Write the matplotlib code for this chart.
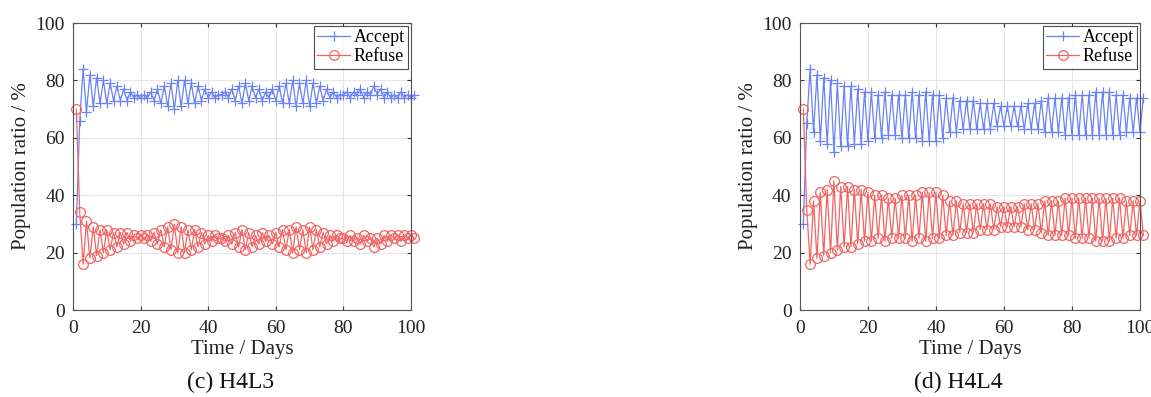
import matplotlib.pyplot as plt

plt.rcParams['font.family'] = ['Liberation Serif', 'DejaVu Serif']

days = list(range(1, 102))

# (c) H4L3
refuse_c = [70, 34, 16, 31, 18, 29, 19, 28, 20, 28,
            21, 27, 22, 27, 23, 27, 24, 26, 25, 26,
            25, 26, 24, 27, 23, 28, 22, 29, 21, 30,
            20, 29, 20, 28, 21, 28, 22, 27, 23, 26,
            24, 26, 25, 25, 24, 26, 23, 27, 22, 28,
            21, 27, 22, 26, 23, 27, 24, 26, 23, 27,
            22, 28, 21, 28, 20, 29, 21, 28, 20, 29,
            21, 28, 22, 27, 23, 26, 24, 26, 25, 25,
            24, 26, 24, 25, 23, 26, 24, 25, 22, 25,
            23, 26, 24, 26, 25, 26, 24, 26, 25, 26,
            25]
accept_c = [30, 66, 84, 69, 82, 71, 81, 72, 80, 72,
            79, 73, 78, 73, 77, 73, 76, 74, 75, 74,
            75, 74, 76, 73, 77, 72, 78, 71, 79, 70,
            80, 71, 80, 72, 79, 72, 78, 73, 77, 74,
            76, 74, 75, 75, 76, 74, 77, 73, 78, 72,
            79, 73, 78, 74, 77, 73, 76, 74, 77, 73,
            78, 72, 79, 72, 80, 71, 79, 72, 80, 71,
            79, 72, 78, 73, 77, 74, 76, 74, 75, 75,
            76, 74, 76, 75, 77, 74, 76, 75, 78, 75,
            77, 74, 76, 74, 75, 74, 76, 74, 75, 74,
            75]

# (d) H4L4
refuse_d = [70, 35, 16, 38, 18, 41, 19, 42, 20, 45,
            21, 43, 22, 43, 22, 42, 23, 42, 24, 41,
            24, 40, 25, 40, 24, 39, 25, 39, 25, 40,
            25, 40, 24, 40, 25, 41, 24, 41, 25, 41,
            25, 40, 26, 38, 26, 38, 27, 37, 27, 37,
            27, 37, 28, 37, 28, 37, 28, 36, 29, 36,
            29, 36, 29, 36, 29, 37, 28, 37, 28, 37,
            27, 38, 26, 38, 26, 38, 26, 39, 26, 39,
            25, 39, 25, 39, 25, 39, 24, 39, 24, 39,
            24, 39, 25, 39, 25, 38, 26, 38, 26, 38,
            26]
accept_d = [30, 65, 84, 62, 82, 59, 81, 58, 80, 55,
            79, 57, 78, 57, 78, 58, 77, 58, 76, 59,
            76, 60, 75, 60, 76, 61, 75, 61, 75, 60,
            75, 60, 76, 60, 75, 59, 76, 59, 75, 59,
            75, 60, 74, 62, 74, 62, 73, 63, 73, 63,
            73, 63, 72, 63, 72, 63, 72, 64, 71, 64,
            71, 64, 71, 64, 71, 63, 72, 63, 72, 63,
            73, 62, 74, 62, 74, 62, 74, 61, 74, 61,
            75, 61, 75, 61, 75, 61, 76, 61, 76, 61,
            76, 61, 75, 61, 75, 62, 74, 62, 74, 62,
            74]

captions = ['(c) H4L3', '(d) H4L4']
blue = '#6a82f5'
red = '#f26464'

fig = plt.figure(figsize=(11.51, 3.97), dpi=100)
axes = [fig.add_axes([0.0634, 0.219, 0.2937, 0.723]),
        fig.add_axes([0.695, 0.219, 0.2954, 0.723])]

for ax, acc, ref, cap in zip(axes, [accept_c, accept_d], [refuse_c, refuse_d], captions):
    ax.plot(days, acc, color=blue, marker='+', markersize=7.5, linewidth=0.9,
            markeredgewidth=0.9, label='Accept', clip_on=False)
    ax.plot(days, ref, color=red, marker='o', markersize=7, linewidth=0.9,
            markerfacecolor='none', markeredgewidth=0.9, label='Refuse', clip_on=False)
    ax.set_xlim(0, 100)
    ax.set_ylim(0, 100)
    ax.set_xticks([0, 20, 40, 60, 80, 100])
    ax.set_yticks([0, 20, 40, 60, 80, 100])
    ax.grid(True, color='#e6e6e6', linewidth=0.8)
    ax.set_axisbelow(True)
    ax.tick_params(direction='in', labelsize=14, colors='#333333', length=3,
                   top=True, right=True, labelcolor='#222222')
    ax.tick_params(axis='x', pad=7)
    ax.tick_params(axis='y', pad=6)
    for s in ax.spines.values():
        s.set_color('#555555')
        s.set_linewidth(0.8)
    ax.set_xlabel('Time / Days', fontsize=15, color='#222222', labelpad=2)
    ax.set_ylabel('Population ratio / %', fontsize=15, color='#222222', labelpad=3)
    leg = ax.legend(loc='upper right', fontsize=13, frameon=True, fancybox=False,
                    borderaxespad=0.15, handlelength=1.8, handletextpad=0.2,
                    borderpad=0.2, labelspacing=0.1)
    leg.get_frame().set_edgecolor('#222222')
    leg.get_frame().set_linewidth(0.8)
    pos = ax.get_position()
    fig.text(pos.x0 + pos.width / 2 - 0.01, 0.036, cap, ha='center', va='center',
             fontsize=17, color='#111111')

fig.savefig('out.png', dpi=100)
